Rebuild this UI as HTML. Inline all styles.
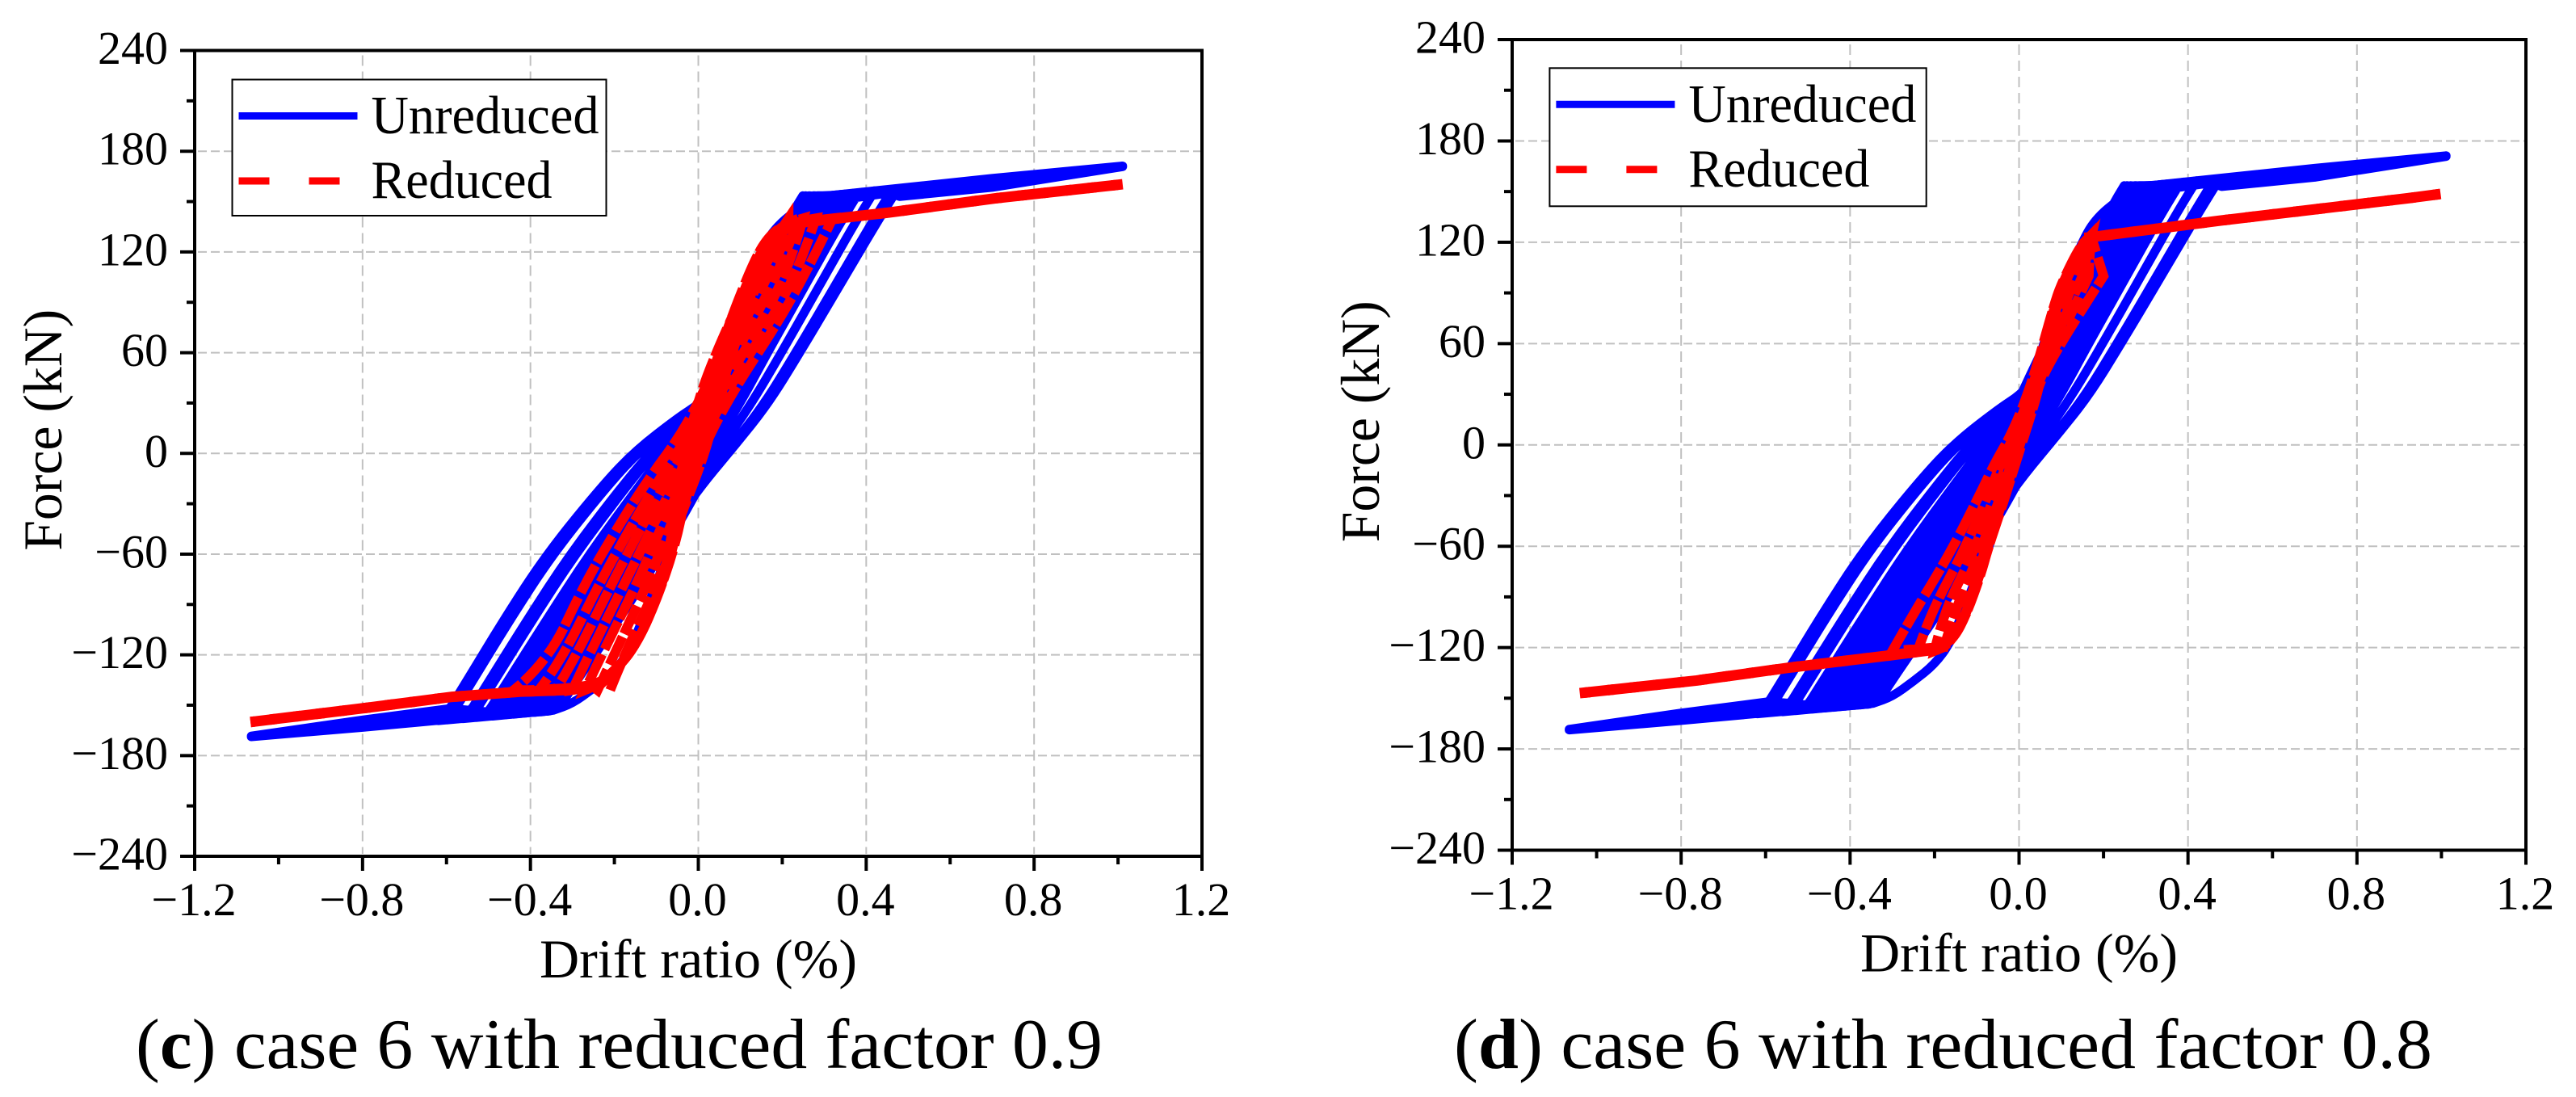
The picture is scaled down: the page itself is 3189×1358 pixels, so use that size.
<!DOCTYPE html>
<html lang="en">
<head>
<meta charset="utf-8">
<title>Force versus drift ratio, case 6</title>
<style>
html,body{margin:0;padding:0;background:#fff;}
svg{display:block;}
text{font-family:"Liberation Serif","DejaVu Serif",serif;fill:#000;}
</style>
</head>
<body>
<svg id="figure" xmlns="http://www.w3.org/2000/svg" width="3189" height="1358" viewBox="0 0 3189 1358">
<rect x="0" y="0" width="3189" height="1358" fill="#fff"/>
<text x="168" y="1322" font-size="88" textLength="1197" lengthAdjust="spacingAndGlyphs">(<tspan font-weight="bold">c</tspan>) case 6 with reduced factor 0.9</text>
<text x="1800" y="1322" font-size="88" textLength="1211" lengthAdjust="spacingAndGlyphs">(<tspan font-weight="bold">d</tspan>) case 6 with reduced factor 0.8</text>
</svg>
<script>
// ---- axis tick values and labels ----
const driftTicks = [-1.2,-0.8,-0.4,0,0.4,0.8,1.2];
const driftTickLabels = ['\u22121.2','\u22120.8','\u22120.4','0.0','0.4','0.8','1.2'];
const driftMinorTicks = [-1,-0.6,-0.2,0.2,0.6,1];
const forceTicks = [240,180,120,60,0,-60,-120,-180,-240];
const forceTickLabels = ['240','180','120','60','0','\u221260','\u2212120','\u2212180','\u2212240'];
const forceMinorTicks = [210,150,90,30,-30,-90,-150,-210];

// ---- unreduced series (same in both panels): half-cycles ----
const upForce = [-151,-141,-100,-60,-18,2,21,30,39,57,82,117,134,148];
const upDrift = [
[-.33,-.305,-.192,-.088,.008,.044,.073,.08,.085,.096,.115,.156,.192,.26],
[-.347,-.322,-.21,-.106,-.007,.031,.065,.072,.078,.09,.11,.154,.19,.258],
[-.364,-.339,-.228,-.124,-.023,.019,.057,.065,.072,.084,.105,.152,.188,.258],
[-.381,-.356,-.246,-.142,-.038,.006,.049,.058,.066,.078,.1,.15,.187,.257],
[-.398,-.373,-.264,-.16,-.053,-.007,.041,.05,.06,.07,.095,.149,.186,.256],
[-.415,-.39,-.282,-.178,-.069,-.019,.033,.04,.05,.063,.091,.149,.186,.256],
[-.432,-.407,-.3,-.196,-.084,-.032,.025,.032,.041,.06,.09,.148,.185,.255],
[-.449,-.424,-.318,-.214,-.099,-.044,.017,.027,.04,.059,.089,.147,.184,.254],
[-.466,-.441,-.336,-.232,-.115,-.057,.008,.025,.04,.059,.089,.147,.184,.254],
[-.478,-.453,-.348,-.244,-.125,-.066,.003,.022,.039,.058,.088,.146,.183,.253],
[-.493,-.468,-.364,-.26,-.137,-.076,-.005,.019,.038,.058,.088,.146,.183,.253],
[-.524,-.499,-.397,-.293,-.166,-.1,-.019,.015,.036,.057,.087,.145,.182,.252],
[-.537,-.512,-.41,-.306,-.177,-.109,-.025,.013,.036,.057,.087,.145,.182,.252],
[-.576,-.551,-.451,-.347,-.212,-.137,-.043,.007,.034,.055,.085,.143,.18,.25],
[-.59,-.565,-.466,-.362,-.225,-.148,-.05,.005,.033,.055,.085,.143,.18,.25]
];
const peakDrift = [.27,.28,.29,.3,.31,.32,.33,.34,.35,.37,.39,.42,.45,.47,.48];
const peakForce = [151.8,152.6,153,153.2,153.5,153.7,154,154.3,154.5,155,155.6,156.4,157,157,156];
const downForce = [153.5,138.6,100,60,29,5,-18,-38,-62,-89,-117,-130,-140,-149,-153];
const downDrift = [
[.249,.212,.139,.062,.003,-.038,-.061,-.064,-.077,-.117,-.162,-.2,-.25,-.3,-.345],
[.256,.219,.146,.068,.008,-.034,-.059,-.063,-.077,-.117,-.162,-.2,-.25,-.3,-.345],
[.265,.228,.153,.075,.015,-.029,-.056,-.063,-.077,-.117,-.162,-.2,-.25,-.3,-.345],
[.275,.238,.163,.084,.023,-.023,-.052,-.062,-.077,-.117,-.162,-.2,-.25,-.3,-.345],
[.285,.248,.172,.092,.03,-.017,-.049,-.061,-.077,-.116,-.162,-.2,-.25,-.3,-.345],
[.296,.259,.182,.101,.038,-.011,-.045,-.06,-.076,-.116,-.162,-.2,-.25,-.3,-.345],
[.305,.268,.191,.109,.045,-.005,-.042,-.059,-.076,-.116,-.162,-.2,-.25,-.3,-.345],
[.315,.278,.2,.117,.052,.001,-.039,-.058,-.076,-.116,-.162,-.2,-.25,-.3,-.345],
[.326,.289,.209,.126,.061,.007,-.035,-.058,-.075,-.115,-.162,-.2,-.25,-.3,-.345],
[.342,.305,.224,.139,.072,.016,-.03,-.056,-.075,-.115,-.162,-.2,-.25,-.3,-.345],
[.36,.322,.24,.152,.085,.027,-.024,-.054,-.074,-.114,-.162,-.2,-.25,-.3,-.345],
[.378,.341,.255,.165,.098,.037,-.018,-.053,-.074,-.114,-.162,-.2,-.25,-.3,-.345],
[.413,.376,.289,.198,.125,.058,-.007,-.05,-.073,-.113,-.162,-.2,-.25,-.3,-.345],
[.453,.416,.326,.232,.156,.081,.007,-.047,-.072,-.112,-.162,-.2,-.25,-.3,-.345],
[.465,.428,.337,.242,.165,.088,.011,-.046,-.072,-.112,-.162,-.2,-.25,-.3,-.345]
];
const valleyDrift = [-.36,-.375,-.39,-.41,-.425,-.44,-.46,-.475,-.49,-.51,-.53,-.56,-.6,-.62,-.62];
const valleyForce = [-153.6,-154,-154.3,-154.7,-155,-155.4,-155.8,-156.1,-156.5,-156.9,-157.4,-158,-158.8,-159.2,-159.2];
const unreducedTopDrift = [.285,.5,.7,1.011,.7,.45,.48,.7,1.011];
const unreducedTopForce = [152.8,158.5,163.8,171.2,161,155.5,153,158.5,170.8];
const unreducedBottomDrift = [-.355,-.6,-.8,-1.065,-.8,-.5,-.59,-.8,-1.065];
const unreducedBottomForce = [-153.5,-158.6,-163.2,-168.8,-161,-154,-152,-158.8,-168.4];

// ---- reduced series, factor 0.9 ----
const reducedUpForceC = [-141,-125,-77,-39,-14,8,30,52,82,116,130,137];
const reducedUpDriftC = [
[-.21,-.185,-.095,-.045,-.005,.025,.045,.07,.11,.165,.195,.215],
[-.24,-.21,-.12,-.06,-.015,.02,.04,.065,.105,.16,.195,.215],
[-.27,-.24,-.145,-.08,-.03,.01,.035,.06,.1,.155,.19,.215],
[-.3,-.27,-.175,-.1,-.05,0,.03,.055,.095,.15,.185,.21],
[-.34,-.3,-.205,-.125,-.07,-.015,.02,.05,.09,.145,.18,.21],
[-.38,-.33,-.235,-.15,-.09,-.03,.01,.045,.085,.14,.175,.21],
[-.44,-.36,-.27,-.18,-.115,-.05,0,.04,.08,.135,.17,.21]
];
const reducedDownForceC = [140,110,76,40,8,-25,-55,-88,-115,-130,-139,-141];
const reducedDownDriftC = [
[.215,.135,.07,.01,-.025,-.052,-.066,-.1,-.15,-.2,-.25,-.24],
[.22,.155,.085,.02,-.02,-.05,-.065,-.1,-.15,-.2,-.25,-.27],
[.23,.175,.105,.03,-.015,-.048,-.064,-.1,-.15,-.2,-.25,-.3],
[.24,.195,.125,.045,-.01,-.045,-.062,-.1,-.15,-.2,-.25,-.33],
[.25,.215,.145,.06,0,-.04,-.06,-.1,-.15,-.2,-.25,-.36],
[.28,.24,.165,.075,.01,-.035,-.058,-.1,-.15,-.2,-.25,-.4],
[.32,.262,.185,.09,.02,-.03,-.055,-.1,-.15,-.2,-.25,-.35]
];
const reducedTopDriftC = [.21,.453,.709,1.011];
const reducedTopForceC = [136.5,143.4,152,160.3];
const reducedBottomDriftC = [-.19,-.234,-.317,-.426,-.586,-.804,-1.067];
const reducedBottomForceC = [-127,-137.5,-141,-142,-145,-152,-160];

// ---- reduced series, factor 0.8 ----
const reducedUpForceD = [-122,-100,-65,-28,-12,9,40,85,98,118,124];
const reducedUpDriftD = [
[-.18,-.155,-.095,-.04,-.02,.01,.048,.092,.112,.152,.174],
[-.2,-.18,-.11,-.055,-.03,.005,.045,.09,.11,.15,.172],
[-.24,-.21,-.135,-.07,-.045,-.005,.04,.087,.107,.147,.17],
[-.3,-.25,-.165,-.09,-.06,-.012,.035,.085,.105,.145,.17]
];
const reducedDownForceD = [100,65,38,27,-14,-38,-61,-78,-100,-115,-120];
const reducedDownDriftD = [
[.135,.08,.038,.025,-.02,-.05,-.08,-.098,-.128,-.157,-.18],
[.15,.09,.042,.03,-.018,-.048,-.078,-.096,-.126,-.156,-.19],
[.165,.1,.047,.035,-.015,-.045,-.075,-.094,-.125,-.155,-.2],
[.2,.11,.05,.04,-.012,-.042,-.073,-.092,-.124,-.155,-.19]
];
const reducedTopDriftD = [.155,.473,.919,.998];
const reducedTopForceD = [122.5,132.7,146,148.6];
const reducedBottomDriftD = [-.19,-.318,-.547,-.763,-1.04];
const reducedBottomForceD = [-121,-125,-132,-139.5,-147];

const svg = document.getElementById('figure');
const NS = 'http://www.w3.org/2000/svg';
const BLUE = '#0000ff', RED = '#ff0000', GRID = '#c0c0c0';
const BLUE_W = 11, RED_W = 12, RED_PLATEAU_W = 13, DASH = '38 49';

function mk(tag, attrs, parent, txt){
  const el = document.createElementNS(NS, tag);
  for (const k in attrs) el.setAttribute(k, attrs[k]);
  if (txt !== undefined) el.textContent = txt;
  parent.appendChild(el);
  return el;
}
// curve through data values, corners softened with midpoint quadratics
function seg(xs, ys, sx, sy, first){
  const px = xs.map(sx), py = ys.map(sy);
  let d = ((first ? 'M' : 'L') + px[0].toFixed(1) + ' ' + py[0].toFixed(1));
  for (let i = 1; i < px.length - 1; i++){
    const mx = (px[i] + px[i+1]) / 2, my = (py[i] + py[i+1]) / 2;
    d += 'Q' + px[i].toFixed(1) + ' ' + py[i].toFixed(1) + ' ' + mx.toFixed(1) + ' ' + my.toFixed(1);
  }
  if (px.length > 1) d += 'L' + px[px.length-1].toFixed(1) + ' ' + py[py.length-1].toFixed(1);
  return d;
}
// straight polyline through data values
function poly(xs, ys, sx, sy){
  let d = '';
  for (let i = 0; i < xs.length; i++){
    d += (i === 0 ? 'M' : 'L') + sx(xs[i]).toFixed(1) + ' ' + sy(ys[i]).toFixed(1);
  }
  return d;
}

function drawPanel(p){
  const sx = v => p.left + (v + 1.2) / 2.4 * (p.right - p.left);
  const sy = v => p.top + (240 - v) / 480 * (p.bottom - p.top);
  const g = mk('g', {}, svg);
  
  

  // grid
  driftTicks.slice(1, -1).forEach(v => {
    const l = mk('line', {x1:sx(v), x2:sx(v), y1:p.top+6, y2:p.bottom-3, stroke:GRID, 'stroke-width':2, 'stroke-dasharray':'13 7'}, g);
    
    
  });
  forceTicks.slice(1, -1).forEach(v => {
    const l = mk('line', {x1:p.left+4, x2:p.right-2, y1:sy(v), y2:sy(v), stroke:GRID, 'stroke-width':2, 'stroke-dasharray':'11 5'}, g);
    
    
  });

  // unreduced series: continuous hysteresis path
  let dBlue = '';
  for (let k = 0; k < upDrift.length; k++){
    dBlue += seg(upDrift[k], upForce, sx, sy, k === 0);
    dBlue += seg([peakDrift[k]], [peakForce[k]], sx, sy, false);
    dBlue += seg(downDrift[k], downForce, sx, sy, false);
    dBlue += seg([valleyDrift[k]], [valleyForce[k]], sx, sy, false);
  }
  const blue = mk('path', {d:dBlue, fill:'none', stroke:BLUE, 'stroke-width':BLUE_W, 'stroke-linejoin':'round', 'stroke-linecap':'round'}, g);
  
  
  const blueTop = mk('path', {d:poly(unreducedTopDrift, unreducedTopForce, sx, sy), fill:'none', stroke:BLUE, 'stroke-width':BLUE_W, 'stroke-linejoin':'round', 'stroke-linecap':'round'}, g);
  
  
  const blueBottom = mk('path', {d:poly(unreducedBottomDrift, unreducedBottomForce, sx, sy), fill:'none', stroke:BLUE, 'stroke-width':BLUE_W, 'stroke-linejoin':'round', 'stroke-linecap':'round'}, g);
  
  

  // reduced series: continuous dashed path, two passes with shifted dash phase
  let dRed = '';
  for (let k = 0; k < p.redUpDrift.length; k++){
    dRed += seg(p.redUpDrift[k], p.redUpForce, sx, sy, k === 0);
    dRed += seg(p.redDownDrift[k], p.redDownForce, sx, sy, false);
  }
  p.passes.forEach(off => {
    const red = mk('path', {d:dRed, fill:'none', stroke:RED, 'stroke-width':RED_W, 'stroke-linejoin':'miter', 'stroke-dasharray':DASH, 'stroke-dashoffset':off}, g);
    
    
  });
  [0, 30, 60].forEach(off => {
    const t = mk('path', {d:poly(p.redTopDrift, p.redTopForce, sx, sy), fill:'none', stroke:RED, 'stroke-width':RED_PLATEAU_W, 'stroke-linejoin':'round', 'stroke-dasharray':DASH, 'stroke-dashoffset':off}, g);
    
    
    const b = mk('path', {d:poly(p.redBottomDrift, p.redBottomForce, sx, sy), fill:'none', stroke:RED, 'stroke-width':RED_PLATEAU_W, 'stroke-linejoin':'round', 'stroke-dasharray':DASH, 'stroke-dashoffset':off}, g);
    
    
  });

  // axes frame
  const frame = mk('rect', {x:p.left, y:p.top, width:p.right-p.left, height:p.bottom-p.top, fill:'none', stroke:'#000', 'stroke-width':4}, g);
  
  

  // ticks and labels
  driftTicks.forEach((v, i) => {
    const t = mk('line', {x1:sx(v), x2:sx(v), y1:p.bottom, y2:p.bottom+18, stroke:'#000', 'stroke-width':4}, g);
    
    
    const lab = mk('text', {x:sx(v)-1, y:p.bottom+73, 'font-size':58, 'text-anchor':'middle'}, g, driftTickLabels[i]);
    
    
  });
  driftMinorTicks.forEach(v => {
    const t = mk('line', {x1:sx(v), x2:sx(v), y1:p.bottom, y2:p.bottom+10, stroke:'#000', 'stroke-width':4}, g);
    
    
  });
  forceTicks.forEach((v, i) => {
    const t = mk('line', {x1:p.left-18, x2:p.left, y1:sy(v), y2:sy(v), stroke:'#000', 'stroke-width':4}, g);
    
    
    const lab = mk('text', {x:p.left-33, y:sy(v)+16.5, 'font-size':58, 'text-anchor':'end'}, g, forceTickLabels[i]);
    
    
  });
  forceMinorTicks.forEach(v => {
    const t = mk('line', {x1:p.left-10, x2:p.left, y1:sy(v), y2:sy(v), stroke:'#000', 'stroke-width':4}, g);
    
    
  });

  // axis titles
  const xt = mk('text', {x:(p.left+p.right)/2, y:p.bottom+150, 'font-size':68, 'text-anchor':'middle', textLength:393, lengthAdjust:'spacingAndGlyphs'}, g, 'Drift ratio (%)');
  
  
  const cy = (p.top+p.bottom)/2 - 29;
  const yt = mk('text', {x:0, y:0, 'font-size':68, 'text-anchor':'middle', textLength:299, lengthAdjust:'spacingAndGlyphs', transform:'translate('+(p.left-165)+' '+cy+') rotate(-90)'}, g, 'Force (kN)');
  
  

  // legend
  const L = p.legend;
  const lg = mk('g', {}, g);
  
  
  const box = mk('rect', {x:L.x, y:L.y, width:L.w, height:L.h, fill:'#fff', stroke:'#000', 'stroke-width':2}, lg);
  
  
  const ls1 = mk('line', {x1:L.x+8, x2:L.x+155, y1:L.y+45, y2:L.y+45, stroke:BLUE, 'stroke-width':9}, lg);
  
  
  const ls2 = mk('line', {x1:L.x+8, x2:L.x+133, y1:L.y+125.5, y2:L.y+125.5, stroke:RED, 'stroke-width':9, 'stroke-dasharray':'38 49'}, lg);
  
  
  const lt1 = mk('text', {x:L.x+172, y:L.y+66.5, 'font-size':67, textLength:282, lengthAdjust:'spacingAndGlyphs'}, lg, 'Unreduced');
  
  
  const lt2 = mk('text', {x:L.x+172, y:L.y+146.5, 'font-size':67, textLength:224, lengthAdjust:'spacingAndGlyphs'}, lg, 'Reduced');
  
  
}

drawPanel({id:'c', left:241, right:1488, top:62.5, bottom:1060, passes:[0,45],
  legend:{x:287.5, y:98.5, w:463, h:168.5},
  redUpDrift:reducedUpDriftC, redUpForce:reducedUpForceC,
  redDownDrift:reducedDownDriftC, redDownForce:reducedDownForceC,
  redTopDrift:reducedTopDriftC, redTopForce:reducedTopForceC,
  redBottomDrift:reducedBottomDriftC, redBottomForce:reducedBottomForceC});
drawPanel({id:'d', left:1872, right:3127, top:49, bottom:1052.5, passes:[0,45],
  legend:{x:1918.4, y:84.3, w:466.3, h:171},
  redUpDrift:reducedUpDriftD, redUpForce:reducedUpForceD,
  redDownDrift:reducedDownDriftD, redDownForce:reducedDownForceD,
  redTopDrift:reducedTopDriftD, redTopForce:reducedTopForceD,
  redBottomDrift:reducedBottomDriftD, redBottomForce:reducedBottomForceD});
</script>
</body>
</html>
